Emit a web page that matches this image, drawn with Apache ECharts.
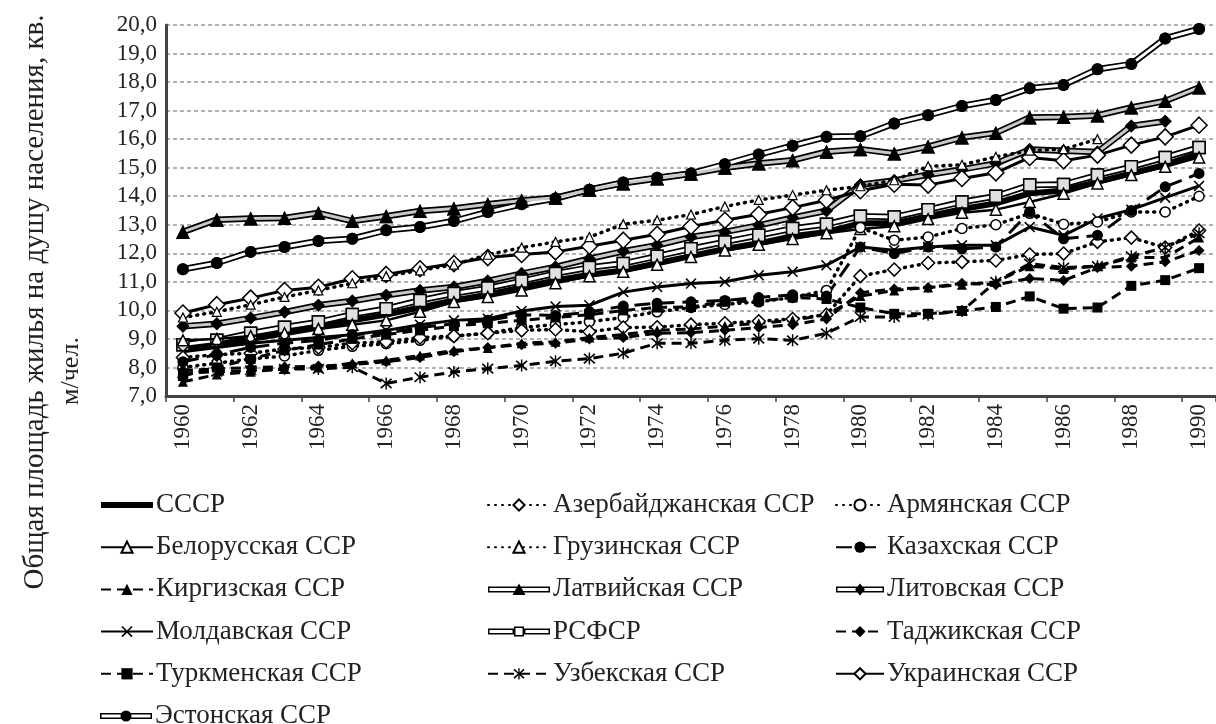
<!DOCTYPE html>
<html>
<head>
<meta charset="utf-8">
<script src="https://cdn.jsdelivr.net/npm/echarts@6/dist/echarts.min.js"></script>
<style>
  html, body { margin: 0; padding: 0; background: #fff; }
  #chart { width: 1216px; height: 724px; }
</style>
</head>
<body>
<div id="chart"></div>
<script>
// годы
var years = ['1960', '1961', '1962', '1963', '1964', '1965', '1966', '1967', '1968', '1969',
  '1970', '1971', '1972', '1973', '1974', '1975', '1976', '1977', '1978', '1979',
  '1980', '1981', '1982', '1983', '1984', '1985', '1986', '1987', '1988', '1989', '1990']

// значения, кв. м/чел.
var ussr = [8.65, 8.8, 9.0, 9.2, 9.4, 9.65, 9.85, 10.1, 10.35, 10.55, 10.8, 11.05, 11.25, 11.4, 11.65, 11.9, 12.15, 12.35, 12.6, 12.75, 13.05, 13.05, 13.3, 13.55, 13.75, 14.1, 14.2, 14.5, 14.8, 15.1, 15.5]
var azer = [8.35, 8.45, 8.5, 8.65, 8.7, 8.85, 8.9, 9.05, 9.1, 9.2, 9.3, 9.33, 9.25, 9.4, 9.41, 9.5, 9.55, 9.62, 9.7, 9.85, 11.2, 11.43, 11.66, 11.7, 11.75, 11.96, 11.99, 12.4, 12.55, 12.2, 12.8]
var armenia = [8.0, 8.15, 8.3, 8.4, 8.6, 8.74, 8.83, 8.95, 9.1, 9.2, 9.4, 9.5, 9.6, 9.75, 9.95, 10.1, 10.21, 10.3, 10.45, 10.7, 12.9, 12.46, 12.57, 12.87, 13.0, 13.4, 13.02, 13.1, 13.45, 13.45, 14.0]
var belarus = [8.95, 9.0, 9.1, 9.2, 9.35, 9.5, 9.65, 9.95, 10.29, 10.47, 10.7, 10.95, 11.2, 11.35, 11.6, 11.87, 12.1, 12.3, 12.5, 12.7, 12.85, 12.95, 13.2, 13.42, 13.53, 13.8, 14.09, 14.45, 14.74, 15.03, 15.36]
var georgia = [9.75, 9.95, 10.2, 10.47, 10.7, 10.95, 11.2, 11.4, 11.6, 11.95, 12.2, 12.4, 12.57, 13.02, 13.16, 13.36, 13.64, 13.87, 14.04, 14.21, 14.35, 14.56, 15.05, 15.1, 15.38, 15.6, 15.65, 16.0, null, null, null]
var kazakh = [8.2, 8.45, 8.7, 8.85, 8.95, 9.15, 9.2, 9.4, 9.53, 9.65, 9.85, 9.82, 9.94, 10.15, 10.25, 10.3, 10.35, 10.45, 10.55, 10.5, 12.22, 11.99, 12.22, 12.16, 12.22, 13.45, 12.51, 12.63, 13.5, 14.33, 14.8]
var kyrgyz = [7.5, 7.75, 7.85, 7.95, 8.0, 8.15, 8.25, 8.42, 8.6, 8.68, 8.85, 8.9, 9.05, 9.15, 9.3, 9.35, 9.45, 9.55, 9.65, 9.85, 10.5, 10.7, 10.8, 10.9, 11.0, 11.55, 11.45, 11.55, 11.85, 11.85, 12.55]
var latvia = [12.75, 13.18, 13.22, 13.24, 13.41, 13.13, 13.3, 13.48, 13.57, 13.72, 13.85, 13.95, 14.23, 14.45, 14.62, 14.79, 15.0, 15.15, 15.26, 15.56, 15.65, 15.5, 15.74, 16.06, 16.22, 16.76, 16.78, 16.83, 17.11, 17.34, 17.81]
var lithuania = [9.44, 9.53, 9.73, 9.94, 10.18, 10.33, 10.53, 10.7, 10.82, 11.03, 11.29, 11.52, 11.81, 12.07, 12.28, 12.57, 12.75, 12.98, 13.25, 13.49, 14.4, 14.55, 14.75, 14.94, 15.15, 15.64, 15.59, 15.55, 16.46, 16.63, null]
var moldova = [8.55, 8.7, 8.85, 8.95, 9.05, 9.15, 9.3, 9.5, 9.65, 9.71, 9.98, 10.14, 10.18, 10.64, 10.82, 10.94, 11.0, 11.23, 11.35, 11.58, 12.22, 12.11, 12.22, 12.28, 12.28, 12.92, 12.63, 13.22, 13.53, 13.95, 14.36]
var rsfsr = [8.8, 8.95, 9.2, 9.41, 9.59, 9.86, 10.06, 10.35, 10.59, 10.78, 11.03, 11.29, 11.5, 11.64, 11.9, 12.16, 12.4, 12.63, 12.87, 13.02, 13.3, 13.27, 13.53, 13.8, 14.0, 14.39, 14.41, 14.74, 15.03, 15.36, 15.71]
var tadjik = [7.9, 7.95, 8.0, 8.02, 8.05, 8.1, 8.2, 8.35, 8.55, 8.7, 8.8, 8.85, 9.0, 9.05, 9.2, 9.22, 9.3, 9.4, 9.5, 9.7, 10.62, 10.75, 10.8, 10.95, 10.9, 11.12, 11.05, 11.5, 11.55, 11.7, 12.1]
var turkmen = [7.7, 8.0, 8.3, 8.6, 8.8, 9.0, 9.15, 9.3, 9.45, 9.55, 9.65, 9.75, 9.85, 10.0, 10.1, 10.12, 10.3, 10.33, 10.45, 10.4, 10.1, 9.88, 9.88, 9.98, 10.12, 10.49, 10.06, 10.1, 10.86, 11.06, 11.48]
var uzbek = [7.8, 7.85, 7.9, 7.95, 7.95, 8.01, 7.44, 7.66, 7.84, 7.96, 8.07, 8.22, 8.31, 8.5, 8.85, 8.85, 8.95, 9.01, 8.95, 9.2, 9.77, 9.77, 9.85, 9.98, 11.0, 11.64, 11.5, 11.55, 11.9, 12.2, 12.7]
var ukraine = [9.91, 10.2, 10.43, 10.7, 10.81, 11.11, 11.26, 11.46, 11.64, 11.85, 11.96, 12.05, 12.25, 12.46, 12.67, 12.94, 13.16, 13.37, 13.6, 13.86, 14.19, 14.42, 14.39, 14.62, 14.82, 15.36, 15.24, 15.44, 15.79, 16.08, 16.49]
var estonia = [11.44, 11.66, 12.05, 12.22, 12.43, 12.51, 12.81, 12.92, 13.13, 13.45, 13.72, 13.92, 14.23, 14.48, 14.65, 14.8, 15.12, 15.46, 15.77, 16.08, 16.1, 16.55, 16.84, 17.16, 17.37, 17.78, 17.9, 18.45, 18.63, 19.53, 19.86]

var yMin = 7
var yMax = 20
var yStep = 1

// легенда: три колонки, как на рисунке
var legendCol1 = ['СССР', 'Белорусская ССР', 'Киргизская ССР', 'Молдавская ССР', 'Туркменская ССР']
var legendCol1b = ['Эстонская ССР']
var legendCol2 = ['Азербайджанская ССР', 'Грузинская ССР', 'Латвийская ССР', 'РСФСР', 'Узбекская ССР']
var legendCol3 = ['Армянская ССР', 'Казахская ССР', 'Литовская ССР', 'Таджикская ССР', 'Украинская ССР']

var FONT = '"Liberation Serif", "DejaVu Serif", serif'
var X_PATH = 'path://M0,1L1,0L5,4L9,0L10,1L6,5L10,9L9,10L5,6L1,10L0,9L4,5Z'
var STAR_PATH = 'path://M0,1.6L1,0.6L5,4.2L9,0.6L10,1.6L6,5L10,8.4L9,9.4L5,5.8L1,9.4L0,8.4L4,5Z M4.4,0L5.6,0L5.6,10L4.4,10Z'

var DOTTED = [1, 6]
var DASHED = [10, 6]
var LONGDASH = [16, 8]

var LEG_TOP = 485
var LEG_PITCH = 42.2

// значки легенды (W x 14): рамка задаётся крошечными точками по углам
function frame(W) {
  return 'M0,0L0.01,0L0.01,0.01Z M' + (W - 0.01) + ',13.99L' + W + ',13.99L' + W + ',14Z '
}
function ring(x0, x1) {
  // контур «двойной линии»: внешний прямоугольник по часовой, внутренний против
  return 'M' + x0 + ',4H' + x1 + 'V10H' + x0 + 'Z M' + (x0 + 1.5) + ',5.5V8.5H' + (x1 - 1.5) + 'V5.5Z '
}
function thickIcon(W) {
  return 'path://' + frame(W) + 'M0,4H' + W + 'V10H0Z'
}
function doubleIcon(W, mark) {
  var c = W / 2
  var p = frame(W)
  if (mark === 'circle') {
    p += ring(0, W) + 'M' + (c - 5.5) + ',7A5.5,5.5 0 1,1 ' + (c + 5.5) + ',7A5.5,5.5 0 1,1 ' + (c - 5.5) + ',7Z'
  } else if (mark === 'triangle') {
    p += ring(0, W) + 'M' + c + ',1L' + (c + 6.5) + ',12.5L' + (c - 6.5) + ',12.5Z'
  } else if (mark === 'diamond') {
    p += ring(0, W) + 'M' + c + ',1L' + (c + 5) + ',7L' + c + ',13L' + (c - 5) + ',7Z'
  } else {
    // открытый квадрат
    p += ring(0, c - 5) + ring(c + 5, W) +
      'M' + (c - 5) + ',2H' + (c + 5) + 'V12H' + (c - 5) + 'Z M' + (c - 3.5) + ',3.5V10.5H' + (c + 3.5) + 'V3.5Z'
  }
  return 'path://' + p
}
var iconMarks = {
  'Эстонская ССР': 'circle',
  'Латвийская ССР': 'triangle',
  'Литовская ССР': 'diamond',
  'РСФСР': 'square'
}

function line(name, data, o) {
  return {
    name: name,
    type: 'line',
    data: data,
    z: o.z || 3,
    symbol: o.symbol || 'none',
    symbolSize: o.size || 10,
    showSymbol: !!o.symbol,
    connectNulls: false,
    lineStyle: {
      color: o.lineColor || '#000',
      width: o.width || 2.5,
      type: o.dash || 'solid',
      cap: o.cap || 'butt'
    },
    itemStyle: {
      color: o.fill || '#000',
      borderColor: '#000',
      borderWidth: o.border || 0
    },
    emphasis: { disabled: true }
  }
}

var series = [
  // двойные линии: чёрная подложка + светлая середина
  line('Эстонская ССР', estonia, { symbol: 'circle', size: 12, width: 6.5, z: 3 }),
  line('Эстонская ССР_', estonia, { symbol: 'circle', size: 12, width: 3, lineColor: '#fff', z: 4 }),
  line('Латвийская ССР', latvia, { symbol: 'triangle', size: 14, width: 6.5, z: 3 }),
  line('Латвийская ССР_', latvia, { symbol: 'triangle', size: 14, width: 3, lineColor: '#c8c8c8', z: 4 }),
  line('Литовская ССР', lithuania, { symbol: 'diamond', size: 13, width: 6.5, z: 3 }),
  line('Литовская ССР_', lithuania, { symbol: 'diamond', size: 13, width: 3, lineColor: '#c8c8c8', z: 4 }),
  line('РСФСР', rsfsr, { symbol: 'rect', size: 12, width: 6.5, fill: '#e0e0e0', border: 1.5, z: 3 }),
  line('РСФСР_', rsfsr, { symbol: 'rect', size: 12, width: 3, lineColor: '#fff', fill: '#e0e0e0', border: 1.5, z: 4 }),

  line('СССР', ussr, { width: 6, z: 3 }),
  line('Белорусская ССР', belarus, { symbol: 'triangle', size: 11, width: 2.5, fill: '#fff', border: 1.5, z: 5 }),
  line('Украинская ССР', ukraine, { symbol: 'diamond', size: 16, width: 3, fill: '#fff', border: 1.5, z: 5 }),
  line('Молдавская ССР', moldova, { symbol: X_PATH, size: 11, width: 3, z: 5 }),
  line('Грузинская ССР', georgia, { symbol: 'triangle', size: 9, width: 3.5, dash: DOTTED, cap: 'round', fill: '#fff', border: 1.2, z: 5 }),
  line('Армянская ССР', armenia, { symbol: 'circle', size: 10, width: 3.5, dash: DOTTED, cap: 'round', fill: '#fff', border: 1.5, z: 5 }),
  line('Азербайджанская ССР', azer, { symbol: 'diamond', size: 13, width: 3.5, dash: DOTTED, cap: 'round', fill: '#fff', border: 1.5, z: 5 }),
  line('Казахская ССР', kazakh, { symbol: 'circle', size: 11, width: 3, dash: LONGDASH, z: 5 }),
  line('Киргизская ССР', kyrgyz, { symbol: 'triangle', size: 10, width: 3, dash: DASHED, z: 5 }),
  line('Таджикская ССР', tadjik, { symbol: 'diamond', size: 11, width: 3, dash: DASHED, z: 5 }),
  line('Туркменская ССР', turkmen, { symbol: 'rect', size: 10, width: 3, dash: DASHED, z: 5 }),
  line('Узбекская ССР', uzbek, { symbol: STAR_PATH, size: 12, width: 3, dash: DASHED, z: 5 })
]

function legendCol(names, left, top, iconW) {
  return {
    orient: 'vertical',
    left: left,
    top: top,
    height: 260,
    itemWidth: iconW,
    itemHeight: 14,
    itemGap: LEG_PITCH - 30,
    selectedMode: false,
    data: names.map(function(n) {
      if (n === 'СССР') {
        return { name: n, icon: thickIcon(iconW), itemStyle: { color: '#000', borderWidth: 0 } }
      }
      if (iconMarks[n]) {
        return { name: n, icon: doubleIcon(iconW, iconMarks[n]), itemStyle: { color: '#000', borderWidth: 0 } }
      }
      return { name: n }
    }),
    textStyle: {
      fontFamily: FONT,
      fontSize: 27,
      lineHeight: 30,
      color: '#222',
      padding: [0, 0, 0, -2]
    }
  }
}

var option = {
  animation: false,
  backgroundColor: '#fff',
  grid: { left: 166, top: 25, width: 1054, height: 371 },
  xAxis: {
    type: 'category',
    data: years,
    boundaryGap: true,
    axisLine: { lineStyle: { color: '#444', width: 3 } },
    axisTick: { show: true, length: 6, lineStyle: { color: '#444', width: 1.5 } },
    axisLabel: {
      rotate: 90,
      interval: 1,
      margin: 8,
      fontFamily: FONT,
      fontSize: 23,
      color: '#222'
    },
    splitLine: { show: false }
  },
  yAxis: {
    type: 'value',
    min: yMin,
    max: yMax,
    interval: yStep,
    axisLine: { show: true, lineStyle: { color: '#444', width: 3 } },
    axisTick: { show: false },
    axisLabel: {
      margin: 9,
      fontFamily: FONT,
      fontSize: 23,
      color: '#222',
      formatter: function(v) { return v.toFixed(1).replace('.', ',') }
    },
    splitLine: { lineStyle: { color: '#999', width: 1.5, type: [4, 3] } }
  },
  legend: [
    legendCol(legendCol1, 95, LEG_TOP, 52),
    legendCol(legendCol1b, 95, LEG_TOP + 5 * LEG_PITCH, 52),
    legendCol(legendCol2, 482, LEG_TOP, 62),
    legendCol(legendCol3, 830, LEG_TOP, 48)
  ],
  graphic: [
    {
      type: 'text',
      x: 35, y: 302,
      rotation: Math.PI / 2,
      style: {
        text: 'Общая площадь жилья на душу населения, кв.',
        font: '29px ' + FONT,
        fill: '#222',
        align: 'center',
        verticalAlign: 'middle'
      }
    },
    {
      type: 'text',
      x: 71, y: 371,
      rotation: Math.PI / 2,
      style: {
        text: 'м/чел.',
        font: '26px ' + FONT,
        fill: '#222',
        align: 'center',
        verticalAlign: 'middle'
      }
    }
  ],
  series: series
}

var chart = echarts.init(document.getElementById('chart'))
chart.setOption(option)
</script>
</body>
</html>
